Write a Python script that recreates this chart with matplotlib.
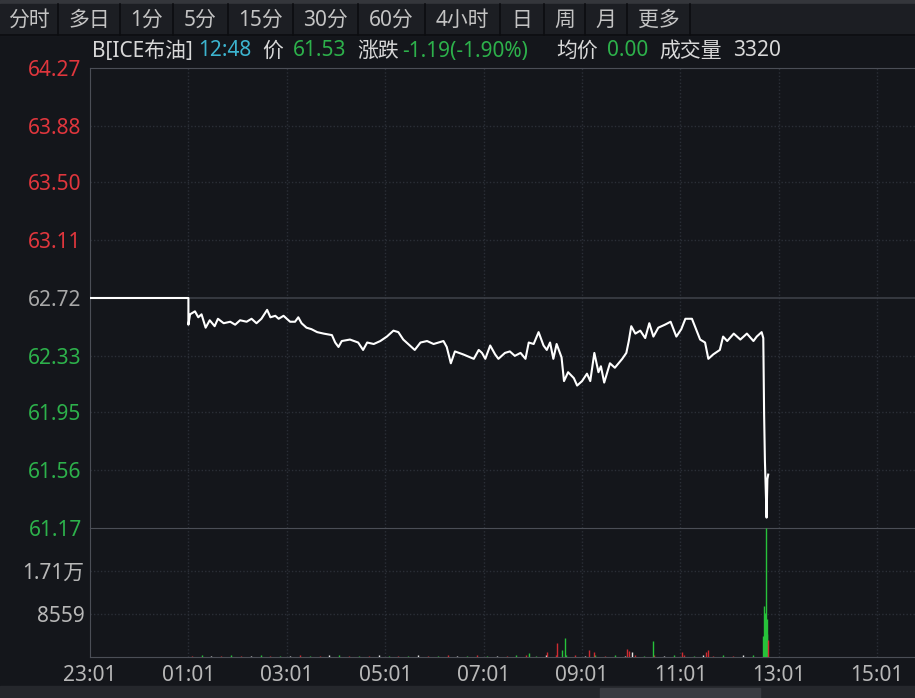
import matplotlib
matplotlib.use("Agg")
import matplotlib.pyplot as plt
from matplotlib.patches import Rectangle

plt.rcParams['font.family'] = ['Noto Sans', 'Noto Sans CJK SC', 'DejaVu Sans']

# price line, minutes after 23:01
price_t = [0, 120, 120, 122, 128, 132, 136, 141, 146, 152, 156, 163, 171, 177, 183, 191,
           197, 203, 209, 216, 220, 226, 230, 236, 244, 250, 254, 258, 264, 270, 277, 285,
           295, 299, 303, 307, 317, 327, 333, 338, 346, 354, 362, 370, 376, 382, 390, 396,
           403, 411, 419, 431, 435, 440, 445, 455, 468, 474, 478, 482, 488, 494, 498, 506,
           512, 518, 525, 531, 535, 541, 547, 553, 557, 561, 565, 569, 575, 578, 583, 590,
           594, 600, 606, 610, 615, 620, 623, 627, 634, 640, 649, 654, 657, 660, 665, 671,
           677, 682, 687, 693, 701, 708, 715, 721, 726, 734, 739, 744, 750, 754, 760, 768,
           772, 777, 785, 793, 801, 809, 813, 819, 821, 822, 823, 825, 826, 827]
price_v = [62.72, 62.72, 62.54, 62.61, 62.63, 62.59, 62.61, 62.52, 62.57, 62.53, 62.58, 62.55,
           62.56, 62.54, 62.57, 62.56, 62.58, 62.55, 62.58, 62.64, 62.59, 62.60, 62.58, 62.60,
           62.56, 62.56, 62.59, 62.55, 62.52, 62.51, 62.49, 62.48, 62.47, 62.42, 62.39, 62.43,
           62.44, 62.42, 62.37, 62.42, 62.41, 62.43, 62.46, 62.50, 62.49, 62.44, 62.40, 62.37,
           62.42, 62.43, 62.41, 62.43, 62.39, 62.28, 62.36, 62.34, 62.31, 62.37, 62.35, 62.31,
           62.40, 62.34, 62.31, 62.35, 62.36, 62.33, 62.35, 62.31, 62.42, 62.41, 62.49, 62.40,
           62.37, 62.42, 62.31, 62.41, 62.32, 62.16, 62.22, 62.18, 62.13, 62.16, 62.21, 62.16,
           62.35, 62.22, 62.26, 62.15, 62.28, 62.25, 62.31, 62.35, 62.43, 62.53, 62.48, 62.50,
           62.45, 62.55, 62.46, 62.52, 62.54, 62.56, 62.46, 62.51, 62.58, 62.58, 62.51, 62.44,
           62.42, 62.31, 62.34, 62.37, 62.46, 62.43, 62.48, 62.44, 62.48, 62.43, 62.46, 62.49,
           62.45, 61.94, 61.62, 61.24, 61.50, 61.53]

# volume: small background trades
small_t = [124, 136, 148, 160, 172, 184, 196, 208, 220, 232,
           244, 256, 268, 280, 292, 304, 316, 328, 340, 352,
           364, 376, 388, 400, 412, 424, 436, 448, 460, 472,
           484, 496, 508, 520, 532, 544, 556, 568, 580, 592,
           604, 616, 628, 640, 652, 664, 676, 688, 700, 712,
           724, 736, 748, 760, 772, 784, 796, 808]
small_v = [260, 310, 180, 240, 390, 200, 150, 330, 220, 280,
           170, 350, 240, 190, 300, 420, 210, 260, 180, 330,
           240, 150, 290, 370, 200, 260, 310, 180, 250, 340,
           210, 280, 190, 320, 450, 260, 380, 300, 420, 350,
           280, 310, 240, 360, 290, 410, 270, 330, 220, 300,
           380, 250, 310, 280, 360, 240, 300, 420]
small_d = [1, -1, 0, 1, -1, 1, 0, -1, 1, -1,
           0, 1, -1, 1, 0, -1, 1, -1, 1, 0,
           -1, 1, -1, 0, 1, -1, 1, 0, -1, 1,
           -1, 0, 1, -1, 1, -1, 0, 1, -1, 1,
           0, -1, 1, -1, 0, 1, -1, 1, 0, -1,
           1, -1, 0, 1, -1, 1, 0, -1]
# volume: visible spikes
spike_t = [535, 557, 569, 576, 579, 608, 614, 655, 657, 661, 687, 722, 751, 754,
           821, 822, 823, 824, 825, 826, 827]
spike_v = [800, 1050, 2710, 1300, 3700, 1380, 1050, 1520, 1200, 1000, 3220, 1050, 900, 1380,
           4200, 10140, 8800, 25677, 7510, 4500, 3320]
spike_d = [-1, 1, 1, -1, -1, 1, 1, 1, 1, 0, -1, 1, 1, 1,
           -1, -1, -1, -1, -1, -1, 1]

price_ticks = [64.27, 63.88, 63.50, 63.11, 62.72, 62.33, 61.95, 61.56, 61.17]
prev_close = 62.72
vol_ticks = [8559, 17118]
vol_labels = ['8559', '1.71万']
time_pos = [0, 120, 240, 360, 480, 600, 720, 840, 960]
time_labels = ['23:01', '01:01', '03:01', '05:01', '07:01', '09:01', '11:01', '13:01', '15:01']

tabs = ['分时', '多日', '1分', '5分', '15分', '30分', '60分', '4小时', '日', '周', '月', '更多']

BG = '#14161b'
GRID = '#2b2f37'
SPINE = '#4b4e56'
RED = '#e0363d'
GREEN = '#2db14b'
TXT = '#c4c4c4'
FS = 15

W, H = 915, 698
fig = plt.figure(figsize=(W / 100, H / 100), dpi=100, facecolor=BG)

# background / header layer in pixel coords
bg = fig.add_axes([0, 0, 1, 1])
bg.set_xlim(0, W)
bg.set_ylim(H, 0)
bg.axis('off')
bg.add_patch(Rectangle((0, 0), W, 4, color='#34363b'))
bg.add_patch(Rectangle((0, 4), W, 31, color='#1c1e23'))
bg.plot([0, W], [35, 35], color='#0c0d10', lw=1.2)
edges = [0, 58, 120, 173, 228, 293, 358, 425, 500, 544, 585, 627, 690]
for i, lab in enumerate(tabs):
    bg.plot([edges[i + 1], edges[i + 1]], [4, 35], color='#0c0d10', lw=1.2)
    bg.text((edges[i] + edges[i + 1]) / 2, 20, lab, color=TXT, fontsize=FS,
            ha='center', va='center')
bg.add_patch(Rectangle((0, 686), W, 12, color='#25272c'))
bg.add_patch(Rectangle((600, 688), 160, 10, color='#3a3c42'))

info = [(92, 'B[ICE布油]', '#d8d8d8'), (198, '12:48', '#3cb4cf'), (262, '价', '#d8d8d8'),
        (293, '61.53', GREEN), (357, '涨跌', '#d8d8d8'), (402, '-1.19(-1.90%)', GREEN),
        (556, '均价', '#d8d8d8'), (607, '0.00', GREEN), (659, '成交量', '#d8d8d8'),
        (733, '3320', '#d8d8d8')]
for x, s, c in info:
    bg.text(x, 51, s, color=c, fontsize=FS, ha='left', va='center')

left = 90 / W
top_p = 1 - 68 / H
mid = 1 - 528 / H
bot = 1 - 657 / H
ax = fig.add_axes([left, mid, 1 - left, top_p - mid], facecolor=BG)
axv = fig.add_axes([left, bot, 1 - left, mid - bot], facecolor=BG, sharex=ax)

xmax = 1006
ax.set_xlim(0, xmax)
ax.set_ylim(price_ticks[-1], price_ticks[0])
axv.set_ylim(0, 3 * vol_ticks[0])

for a in (ax, axv):
    for sp in a.spines.values():
        sp.set_visible(False)
    a.spines['left'].set_visible(True)
    a.spines['left'].set_color(SPINE)
    a.spines['top'].set_visible(True)
    a.spines['top'].set_color(SPINE)
    for t in time_pos[1:]:
        a.axvline(t, color=GRID, lw=1.0, ls=(0, (1, 1.5)), zorder=1)
axv.spines['bottom'].set_visible(True)
axv.spines['bottom'].set_color(SPINE)

for p in price_ticks[1:-1]:
    if p == prev_close:
        ax.axhline(p, color='#3c3f47', lw=1.2, zorder=1)
    else:
        ax.axhline(p, color=GRID, lw=1.0, ls=(0, (1, 1.5)), zorder=1)
for v in vol_ticks:
    axv.axhline(v, color=GRID, lw=1.0, ls=(0, (1, 1.5)), zorder=1)

ax.plot(price_t, price_v, color='white', lw=1.5, zorder=3)

def dir_color(d):
    return {1: '#cf2b31', -1: '#27c23a', 0: '#e6e6e6'}[d]

axv.vlines(small_t, 0, small_v, colors=[dir_color(d) for d in small_d], lw=1.0, zorder=3)
axv.vlines(spike_t, 0, spike_v, colors=[dir_color(d) for d in spike_d], lw=1.0, zorder=3)

# tick labels
ax.set_yticks(price_ticks)
ax.set_yticklabels([f'{p:.2f}' for p in price_ticks], fontsize=FS)
for p, lab in zip(price_ticks, ax.get_yticklabels()):
    lab.set_color(RED if p > prev_close else (GREEN if p < prev_close else '#a8a8a8'))
ax.tick_params(axis='y', length=0, pad=6)
ax.tick_params(axis='x', length=0, labelbottom=False)

axv.set_yticks(vol_ticks)
axv.set_yticklabels(vol_labels, fontsize=FS, color='#b8b8b8')
axv.tick_params(axis='y', length=0, pad=4)
axv.set_xticks(time_pos)
axv.set_xticklabels(time_labels, fontsize=FS, color='#b8b8b8')
axv.tick_params(axis='x', length=0, pad=6)

fig.savefig('out.png', dpi=100, facecolor=BG)
